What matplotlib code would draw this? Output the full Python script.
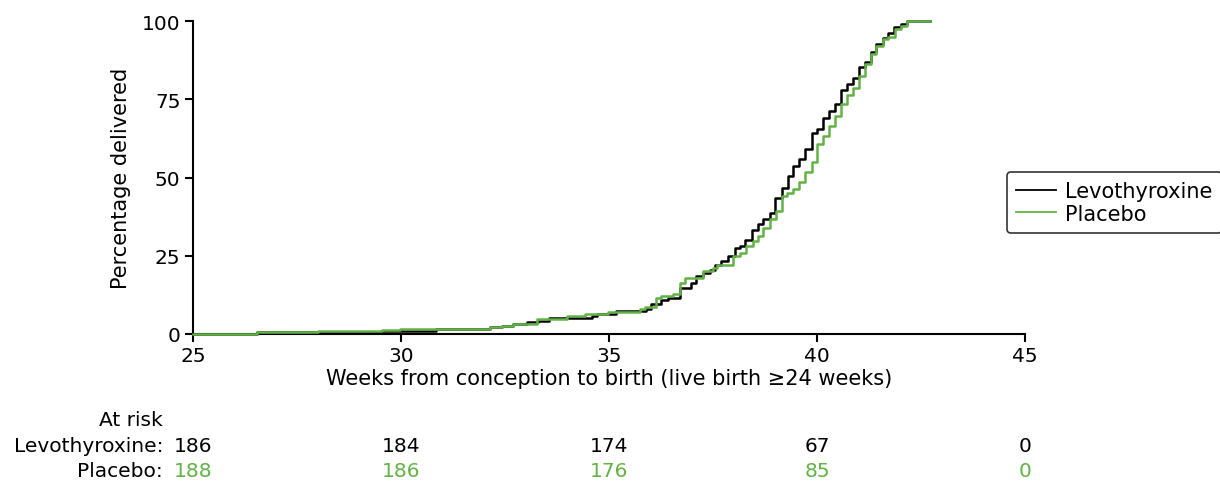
import matplotlib.pyplot as plt

# step points (weeks, cumulative % delivered)
levo_weeks = [25.0, 26.55, 29.55, 30.85, 32.14, 32.42, 32.70, 33.03, 33.30, 33.55,
              34.58, 34.70, 35.18, 35.90, 36.00, 36.26, 36.43, 36.70, 36.98, 37.10,
              37.25, 37.43, 37.55, 37.70, 37.86, 38.03, 38.15, 38.27, 38.43, 38.59,
              38.71, 38.87, 38.99, 39.15, 39.31, 39.43, 39.57, 39.71, 39.87, 40.00,
              40.15, 40.30, 40.43, 40.58, 40.73, 40.87, 41.01, 41.15, 41.30, 41.43,
              41.58, 41.71, 41.86, 42.02, 42.16, 42.72]
levo_pct = [0.0, 0.54, 1.08, 1.61, 2.15, 2.69, 3.23, 3.76, 4.3, 5.0,
            5.9, 6.4, 7.4, 8.0, 9.6, 11.0, 11.5, 14.6, 16.2, 18.4,
            19.5, 20.5, 22.1, 23.2, 25.0, 27.5, 28.2, 30.1, 33.3, 35.3,
            36.8, 38.7, 43.5, 46.7, 50.4, 53.6, 55.8, 59.0, 64.3, 65.4,
            69.1, 71.3, 73.4, 77.9, 80.0, 81.9, 85.4, 86.8, 90.0, 92.8,
            94.6, 96.1, 98.2, 99.0, 100.0, 100.0]

plac_weeks = [25.0, 26.55, 28.00, 29.55, 29.98, 32.14, 32.42, 32.70, 33.26, 33.98,
              34.42, 34.98, 35.75, 35.87, 36.14, 36.26, 36.54, 36.70, 36.83, 37.26,
              37.50, 37.60, 37.99, 38.15, 38.30, 38.47, 38.59, 38.71, 38.87, 39.01,
              39.15, 39.29, 39.43, 39.57, 39.71, 39.87, 40.00, 40.15, 40.30, 40.43,
              40.58, 40.73, 40.87, 41.02, 41.15, 41.30, 41.43, 41.58, 41.71, 41.88,
              42.02, 42.16, 42.72]
plac_pct = [0.0, 0.53, 1.06, 1.3, 1.6, 2.1, 2.66, 3.2, 4.8, 5.8,
            6.4, 7.05, 7.9, 8.5, 11.6, 12.0, 12.8, 16.2, 17.8, 20.2,
            21.0, 22.0, 25.0, 25.9, 28.0, 29.6, 31.2, 33.9, 36.8, 39.2,
            44.0, 45.1, 46.2, 48.5, 51.6, 54.8, 60.6, 63.2, 66.4, 69.7,
            73.4, 76.3, 78.7, 82.5, 86.2, 89.6, 92.1, 94.2, 95.0, 97.4,
            98.5, 100.0, 100.0]

risk_weeks = [25, 30, 35, 40, 45]
levo_risk = [186, 184, 174, 67, 0]
plac_risk = [188, 186, 176, 85, 0]

black = '#000000'
green = '#62B246'
FS = 15
TFS = 14.5  # at-risk table

plt.rcParams['font.family'] = ['DejaVu Sans']
plt.rcParams['font.size'] = FS

W, H = 1220, 485
fig = plt.figure(figsize=(W / 100, H / 100), dpi=100)
ax_l, ax_b = 193 / W, 1 - 335 / H
ax_h = (335 - 22) / H
ax = fig.add_axes([ax_l, ax_b, (1025 - 193) / W, ax_h])

ax.step(levo_weeks, levo_pct, where='post', color=black, lw=1.8,
        label='Levothyroxine', zorder=3, clip_on=False)
ax.step(plac_weeks, plac_pct, where='post', color=green, lw=1.8,
        label='Placebo', zorder=3, clip_on=False)

ax.set_xlim(25, 45)
ax.set_ylim(0, 100)
ax.set_xticks(risk_weeks)
ax.set_yticks([0, 25, 50, 75, 100])
ax.spines['top'].set_visible(False)
ax.spines['right'].set_visible(False)
for s in ('left', 'bottom'):
    ax.spines[s].set_linewidth(1.5)
ax.tick_params(width=1.5, length=6, labelsize=14.5, pad=3)
ax.set_xlabel('Weeks from conception to birth (live birth \u226524 weeks)', fontsize=FS, labelpad=2)
ax.set_ylabel('Percentage delivered', fontsize=FS, labelpad=8)

leg = ax.legend(loc='center left', bbox_to_anchor=(1007 / W, 1 - 203.5 / H),
                bbox_transform=fig.transFigure,
                frameon=True, fancybox=True, edgecolor='black', fontsize=FS,
                handlelength=1.9, borderpad=0.45, labelspacing=0.12, handletextpad=0.45,
                borderaxespad=0)
leg.get_frame().set_linewidth(1.2)
for h in leg.get_lines():
    h.set_linewidth(1.3)

# at-risk table below the axis
fig.text(163 / W, 1 - 420 / H, 'At risk', ha='right', va='center', fontsize=TFS)
fig.text(163 / W, 1 - 447 / H, 'Levothyroxine:', ha='right', va='center', fontsize=TFS)
fig.text(163 / W, 1 - 472 / H, 'Placebo:', ha='right', va='center', fontsize=TFS)
tr = ax.get_xaxis_transform()
y_levo = (1 - 447 / H - ax_b) / ax_h
y_plac = (1 - 472 / H - ax_b) / ax_h
for wk, nl, npl in zip(risk_weeks, levo_risk, plac_risk):
    ax.text(wk, y_levo, str(nl), transform=tr, ha='center', va='center',
            fontsize=TFS, color=black, clip_on=False)
    ax.text(wk, y_plac, str(npl), transform=tr, ha='center', va='center',
            fontsize=TFS, color=green, clip_on=False)

fig.savefig('out.png', dpi=100)
